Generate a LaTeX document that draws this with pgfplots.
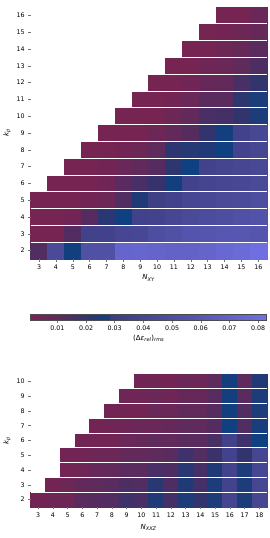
\documentclass[border=0pt]{standalone}
\usepackage{pgfplots}
\usepackage{pgfplotstable}
\pgfplotsset{compat=1.18}
\usepackage{fontspec}
\setmainfont{DejaVu Sans}
\newcommand\tk{\fontsize{6.3}{7.5}\selectfont}
\newcommand\lb{\fontsize{7}{8}\selectfont}

\pgfplotstableread{
x y c
14 16 .003
15 16 .003
16 16 .007
13 15 .003
14 15 .004
15 15 .006
16 15 .008
12 14 .003
13 14 .003
14 14 .006
15 14 .008
16 14 .011
11 13 .003
12 13 .003
13 13 .005
14 13 .007
15 13 .010
16 13 .014
10 12 .003
11 12 .003
12 12 .005
13 12 .008
14 12 .009
15 12 .015
16 12 .020
9 11 .003
10 11 .003
11 11 .004
12 11 .007
13 11 .011
14 11 .011
15 11 .021
16 11 .025
8 10 .003
9 10 .003
10 10 .003
11 10 .006
12 10 .009
13 10 .015
14 10 .016
15 10 .020
16 10 .025
7 9 .003
8 9 .003
9 9 .003
10 9 .006
11 9 .009
12 9 .012
13 9 .020
14 9 .027
15 9 .036
16 9 .041
6 8 .003
7 8 .003
8 8 .004
9 8 .006
10 8 .010
11 8 .021
12 8 .023
13 8 .024
14 8 .028
15 8 .037
16 8 .040
5 7 .003
6 7 .003
7 7 .004
8 7 .007
9 7 .009
10 7 .012
11 7 .021
12 7 .028
13 7 .036
14 7 .038
15 7 .040
16 7 .043
4 6 .003
5 6 .003
6 6 .003
7 6 .005
8 6 .011
9 6 .015
10 6 .019
11 6 .027
12 6 .036
13 6 .038
14 6 .040
15 6 .042
16 6 .045
3 5 .003
4 5 .003
5 5 .003
6 5 .004
7 5 .006
8 5 .013
9 5 .024
10 5 .032
11 5 .036
12 5 .040
13 5 .042
14 5 .045
15 5 .047
16 5 .050
3 4 .003
4 4 .003
5 4 .004
6 4 .012
7 4 .022
8 4 .028
9 4 .035
10 4 .037
11 4 .040
12 4 .045
13 4 .048
14 4 .050
15 4 .052
16 4 .055
3 3 .003
4 3 .003
5 3 .013
6 3 .035
7 3 .036
8 3 .040
9 3 .042
10 3 .050
11 3 .052
12 3 .057
13 3 .058
14 3 .060
15 3 .060
16 3 .058
3 2 .013
4 2 .045
5 2 .027
6 2 .052
7 2 .052
8 2 .073
9 2 .074
10 2 .072
11 2 .070
12 2 .070
13 2 .072
14 2 .076
15 2 .078
16 2 .082
}\topdata

\pgfplotstableread{
x y c
10 10 .004
11 10 .005
12 10 .004
13 10 .007
14 10 .006
15 10 .010
16 10 .027
17 10 .010
18 10 .024
9 9 .005
10 9 .005
11 9 .007
12 9 .005
13 9 .008
14 9 .008
15 9 .011
16 9 .027
17 9 .011
18 9 .025
8 8 .004
9 8 .004
10 8 .004
11 8 .007
12 8 .007
13 8 .009
14 8 .009
15 8 .012
16 8 .027
17 8 .013
18 8 .025
7 7 .004
8 7 .005
9 7 .005
10 7 .007
11 7 .007
12 7 .008
13 7 .010
14 7 .010
15 7 .012
16 7 .028
17 7 .013
18 7 .026
6 6 .004
7 6 .004
8 6 .004
9 6 .007
10 6 .008
11 6 .010
12 6 .009
13 6 .011
14 6 .011
15 6 .015
16 6 .035
17 6 .017
18 6 .028
5 5 .004
6 5 .004
7 5 .006
8 5 .006
9 5 .009
10 5 .009
11 5 .010
12 5 .011
13 5 .017
14 5 .013
15 5 .018
16 5 .037
17 5 .020
18 5 .040
5 4 .004
6 4 .005
7 4 .008
8 4 .009
9 4 .011
10 4 .011
11 4 .015
12 4 .014
13 4 .022
14 4 .016
15 4 .024
16 4 .037
17 4 .025
18 4 .040
4 3 .004
5 3 .006
6 3 .009
7 3 .010
8 3 .011
9 3 .014
10 3 .013
11 3 .022
12 3 .014
13 3 .024
14 3 .016
15 3 .025
16 3 .037
17 3 .025
18 3 .040
3 2 .004
4 2 .005
5 2 .006
6 2 .011
7 2 .012
8 2 .013
9 2 .017
10 2 .015
11 2 .024
12 2 .016
13 2 .025
14 2 .020
15 2 .025
16 2 .038
17 2 .025
18 2 .040
}\botdata

\pgfplotsset{
  colormap={hm}{rgb255(7)=(125,35,80) rgb255(100)=(95,42,92) rgb255(200)=(50,52,110) rgb255(280)=(15,65,130) rgb255(281)=(60,60,128) rgb255(550)=(82,82,168) rgb255(830)=(112,112,226)},
  /pgf/number format/assume math mode=true,
  hm/.style={
    scale only axis, width=236pt,
    colormap name=hm, point meta min=0.0007, point meta max=0.083,
    axis line style={draw=none},
    tick style={black!55, line width=0.5pt},
    tick align=outside, major tick length=2.5pt, minor tick length=0pt,
    xtick pos=left, ytick pos=left,
    ticklabel style={font=\tk},
    label style={font=\lb},
    yminorgrids, minor grid style={white, line width=0.9pt},
    axis on top, clip=false, clip marker paths=true,
  },
}

\begin{document}
\begin{tikzpicture}
\useasboundingbox (0,0) rectangle (269pt,-538pt);
\begin{axis}[hm, at={(30.7pt,-7pt)}, anchor=north west, height=252pt,
  xmin=2.5, xmax=16.5, ymin=1.5, ymax=16.5,
  xtick={3,...,16}, ytick={2,...,16},
  minor ytick={2.5,3.5,...,15.5},
  xlabel={\textit{N}\textsubscript{\textit{XY}}},
  ylabel={\textit{k}\textsubscript{\textit{p}}},
  xlabel style={yshift=2pt}, ylabel style={yshift=-1pt},
  colorbar horizontal,
  colorbar style={at={(parent axis.south west)}, anchor=north west, yshift=-46.5pt,
    scale only axis, width=236pt, height=6.5pt,
    xtick={0.01,0.02,0.03,0.04,0.05,0.06,0.07,0.08},
    scaled x ticks=false,
    xticklabel style={font=\tk},
    /pgf/number format/fixed, /pgf/number format/fixed zerofill, /pgf/number format/precision=2,
    xlabel={(Δ\textit{ε}\textsubscript{\textit{rel}})\textsubscript{\textit{rms}}},
    xlabel style={font=\lb, yshift=3pt},
    tick style={black!55, line width=0.5pt}, major tick length=2pt, tick align=outside,
    xtick pos=left, axis line style={black!70, line width=0.5pt}},
]
\addplot[scatter, only marks, mark=square*, mark size=8.43pt, point meta=explicit,
  scatter/use mapped color={draw=mapped color, fill=mapped color}]
  table[x=x, y=y, meta=c] {\topdata};
\end{axis}
\begin{axis}[hm, at={(30.7pt,-374pt)}, anchor=north west, height=133pt,
  xmin=2.5, xmax=18.5, ymin=1.5, ymax=10.5,
  xtick={3,...,18}, ytick={2,...,10},
  minor ytick={2.5,3.5,...,9.5},
  xlabel={\textit{N}\textsubscript{\textit{XXZ}}},
  ylabel={\textit{k}\textsubscript{\textit{p}}},
  xlabel style={yshift=0pt}, ylabel style={yshift=-1pt},
]
\addplot[scatter, only marks, mark=square*, mark size=7.38pt, point meta=explicit,
  scatter/use mapped color={draw=mapped color, fill=mapped color}]
  table[x=x, y=y, meta=c] {\botdata};
\end{axis}
\end{tikzpicture}
\end{document}
